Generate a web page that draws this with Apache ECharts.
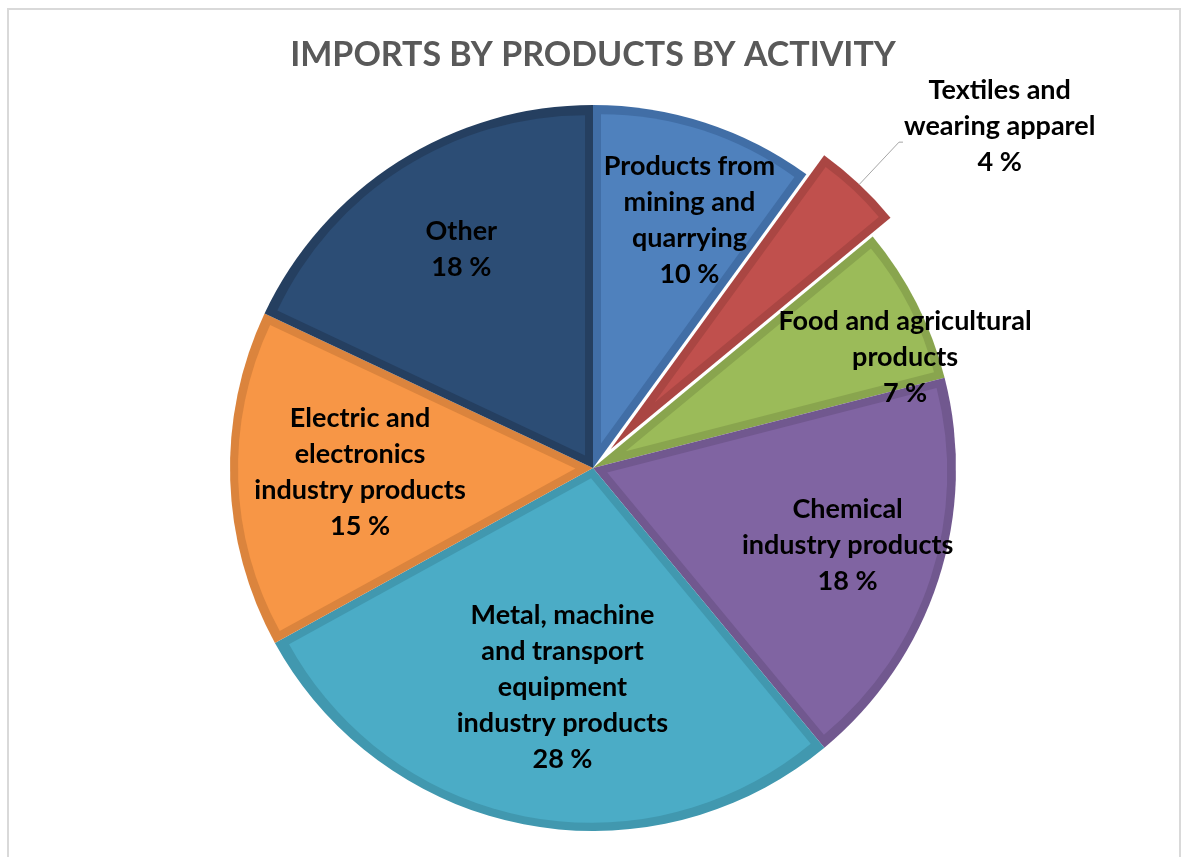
<!DOCTYPE html>
<html><head><meta charset="utf-8">
<script src="https://cdn.jsdelivr.net/npm/echarts@6/dist/echarts.min.js"></script>
<style>html,body{margin:0;padding:0;background:#fff}#c{width:1186px;height:857px}</style>
</head><body><div id="c"></div><script>
// ---- data ----
const categories = ['Products from mining and quarrying','Textiles and wearing apparel','Food and agricultural products','Chemical industry products','Metal, machine and transport equipment industry products','Electric and electronics industry products','Other'];
const shares = [10, 4, 7, 18, 28, 15, 18];
const labelLines = ['Products from\nmining and\nquarrying','Textiles and\nwearing apparel','Food and agricultural\nproducts','Chemical\nindustry products','Metal, machine\nand transport\nequipment\nindustry products','Electric and\nelectronics\nindustry products','Other'];
const explodedIndex = 1;
const titleText = 'IMPORTS BY PRODUCTS BY ACTIVITY';

// ---- style ----
const fills = ['#4F81BD','#C0504D','#9BBB59','#8064A2','#4BACC6','#F79646','#2C4D75'];
const edges = ['#416EA6','#AA4643','#89A54E','#71588F','#4198AF','#DB843D','#253F60'];
const CX = 593, CY = 468, R = 363, EDGE = 8, EXPLODE = 26;
const labelRadius = [263, 0, 328, 263, 218, 230, 252.5];
const labelShift  = [3.3, 0, 7.6, -1.2, -2.9, 0.8, 1.4];
const FONT = 'Lato';

const total = shares.reduce((a, b) => a + b, 0);
const starts = []; let acc = 0;
shares.forEach(v => { starts.push(acc); acc += v; });
const ang = f => -Math.PI / 2 + f / total * 2 * Math.PI;

function richText(i, v) {
  return labelLines[i].split('\n').map(l => '{c|' + l + '}').join('\n') + '\n{c|' + v + ' %}';
}
const rich = { c: { align: 'center', fontSize: 27, fontWeight: 'bold', fontFamily: FONT, lineHeight: 36, color: '#000' } };

const baseData = shares.map((v, i) => ({
  name: categories[i], value: v, selected: i === explodedIndex,
  itemStyle: { color: edges[i] }
}));
const labelData = shares.map((v, i) => {
  const d = { name: categories[i], value: v, selected: i === explodedIndex };
  if (i === explodedIndex) {
    d.label = { position: 'outside', padding: [0, 0, 32, 0], distanceToLabelLine: 1 };
    d.labelLine = { show: true, length: 58, length2: 4, lineStyle: { color: '#A6A6A6', width: 1 } };
  }
  return d;
});

const chart = echarts.init(document.getElementById('c'), null, { renderer: 'canvas' });
chart.setOption({
  animation: false,
  backgroundColor: '#fff',
  title: { text: titleText, left: 'center', top: 33,
    textStyle: { fontFamily: FONT, fontSize: 34, fontWeight: 'bold', color: '#595959' } },
  graphic: [{ type: 'rect', shape: { x: 8, y: 9, width: 1172, height: 900 },
    style: { fill: 'none', stroke: '#D9D9D9', lineWidth: 2 }, silent: true }],
  series: [
    { type: 'pie', z: 1, center: [CX, CY], radius: [0, R], startAngle: 90, clockwise: true,
      selectedMode: 'single', selectedOffset: EXPLODE, silent: true, avoidLabelOverlap: false,
      label: { show: false }, labelLine: { show: false }, emphasis: { disabled: true },
      data: baseData },
    { type: 'custom', z: 2, coordinateSystem: 'none', silent: true,
      data: shares.map(v => [v]),
      renderItem: function (params, api) {
        const i = params.dataIndex;
        const s = ang(starts[i]), e = ang(starts[i] + api.value(0));
        const m = (s + e) / 2, half = (e - s) / 2;
        const p = EDGE / Math.sin(half);
        const off = p + (i === explodedIndex ? EXPLODE : 0);
        return { type: 'sector',
          shape: { cx: CX + Math.cos(m) * off, cy: CY + Math.sin(m) * off, r0: 0, r: R - EDGE - p,
                   startAngle: s, endAngle: e, clockwise: true },
          style: { fill: fills[i] } };
      } },
    { type: 'pie', z: 3, center: [CX, CY], radius: [0, R], startAngle: 90, clockwise: true,
      selectedMode: 'single', selectedOffset: EXPLODE, silent: true, avoidLabelOverlap: false,
      itemStyle: { color: 'rgba(0,0,0,0)' }, emphasis: { disabled: true },
      label: { show: true, position: 'inside', formatter: p => richText(p.dataIndex, p.value), rich: rich },
      labelLine: { show: false },
      labelLayout: function (params) {
        const i = params.dataIndex;
        if (i === explodedIndex) return {};
        const mid = ang(starts[i] + shares[i] / 2);
        const def = R / 2;
        const a = mid + labelShift[i] * Math.PI / 180;
        const tx = labelRadius[i] * Math.cos(a), ty = labelRadius[i] * Math.sin(a);
        return { dx: tx - def * Math.cos(mid), dy: ty - def * Math.sin(mid) };
      },
      data: labelData }
  ]
});
</script></body></html>
